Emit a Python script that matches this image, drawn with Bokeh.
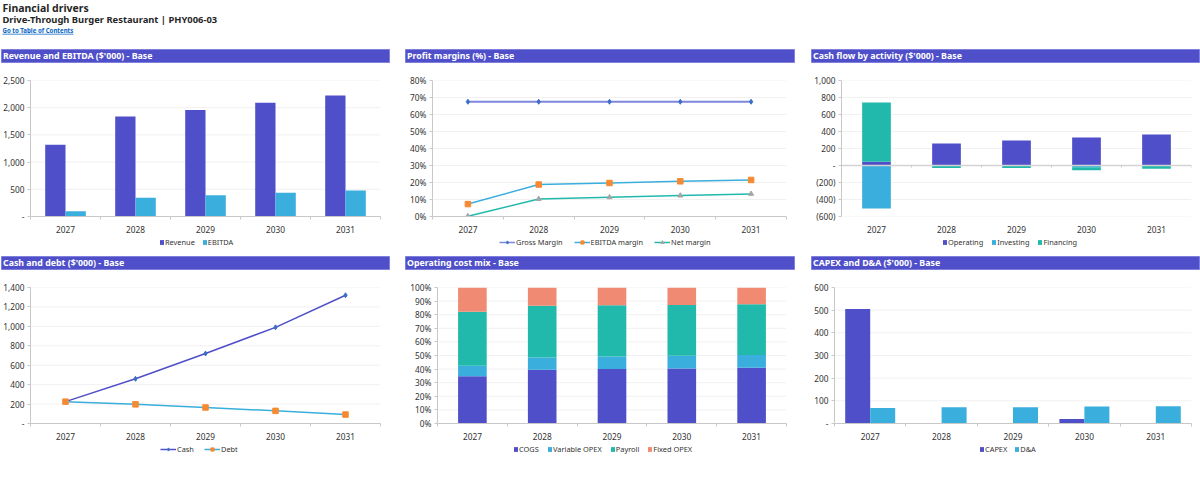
from bokeh.embed import file_html
from bokeh.resources import INLINE
from bokeh.plotting import figure
from bokeh.layouts import column, row
from bokeh.models import (BoxAnnotation, FixedTicker, Label, Legend, LegendItem,
                          LinearAxis, Range1d, Span)
import numpy as np

years = ["2027", "2028", "2029", "2030", "2031"]

revenue = [1320, 1840, 1960, 2090, 2225]
ebitda = [95, 345, 390, 435, 480]

gross_margin = [67.5, 67.5, 67.5, 67.5, 67.5]
ebitda_margin = [7.3, 18.8, 19.7, 20.7, 21.5]
net_margin = [0.2, 10.3, 11.3, 12.3, 13.3]

operating = [45, 260, 295, 330, 365]
investing = [-505, 0, 0, -20, 0]
financing = [695, -28, -30, -35, -38]

cash = [225, 460, 720, 990, 1320]
debt = [225, 197, 165, 130, 92]

cogs = [34.7, 39.5, 40.0, 40.5, 41.0]
variable_opex = [7.7, 9.0, 9.3, 9.3, 9.3]
payroll = [39.7, 38.0, 37.6, 37.3, 37.3]
fixed_opex = [17.9, 13.5, 13.1, 12.9, 12.4]

capex = [505, 0, 0, 20, 0]
dna = [68, 72, 72, 75, 76]

ticks_p1 = [0, 500, 1000, 1500, 2000, 2500]
labels_p1 = ["-", "500", "1,000", "1,500", "2,000", "2,500"]
ticks_p2 = [0, 10, 20, 30, 40, 50, 60, 70, 80]
labels_p2 = ["0%", "10%", "20%", "30%", "40%", "50%", "60%", "70%", "80%"]
ticks_p3 = [-600, -400, -200, 0, 200, 400, 600, 800, 1000]
labels_p3 = ["(600)", "(400)", "(200)", "-", "200", "400", "600", "800", "1,000"]
ticks_p4 = [0, 200, 400, 600, 800, 1000, 1200, 1400]
labels_p4 = ["-", "200", "400", "600", "800", "1,000", "1,200", "1,400"]
ticks_p5 = [0, 10, 20, 30, 40, 50, 60, 70, 80, 90, 100]
labels_p5 = ["0%", "10%", "20%", "30%", "40%", "50%", "60%", "70%", "80%", "90%", "100%"]
ticks_p6 = [0, 100, 200, 300, 400, 500, 600]
labels_p6 = ["-", "100", "200", "300", "400", "500", "600"]

PURPLE = "#4F4FC9"
BLUE = "#3AAEDC"
TEAL = "#21B9AC"
SALMON = "#F08A72"
ORANGE = "#F58A32"
MARK_BLUE = "#3A6FC8"
GRAY = "#A5A5A5"
TEXT = "#333333"
FONT = "Noto Sans"
FS = "8.3px"
LEGEND_FS = "7.4px"

xc = np.arange(len(years)) + 0.5


def band(title, left, right, top, bottom):
    b = figure(width=400, height=13 + top + bottom, output_backend="svg", toolbar_location=None,
               x_range=Range1d(0, 1), y_range=Range1d(0, 1), frame_align=False,
               min_border_left=left, min_border_right=right,
               min_border_top=top, min_border_bottom=bottom,
               background_fill_color=PURPLE, outline_line_color="#8080DC",
               x_axis_type=None, y_axis_type=None)
    b.add_layout(Label(x=0, y=0.5, x_offset=1.5, text=title, text_color="white",
                       text_font=FONT, text_font_style="bold", text_font_size="8.8px",
                       text_baseline="middle"))
    return b


def panel(ticks, labels, ymin, ymax, left, right, top, bottom, zero_axis=False):
    p = figure(width=400, height=136 + top + bottom, output_backend="svg", toolbar_location=None,
               x_range=Range1d(0, len(years)), y_range=Range1d(ymin, ymax), frame_align=False,
               min_border_left=left, min_border_right=right,
               min_border_top=top, min_border_bottom=bottom,
               outline_line_color=None, x_axis_type=None, y_axis_type=None)
    xticker = FixedTicker(ticks=list(xc), minor_ticks=list(range(len(years) + 1)))
    xa = LinearAxis(ticker=xticker,
                    major_label_overrides={float(c): y for c, y in zip(xc, years)},
                    major_tick_line_color=None, major_tick_in=0, major_tick_out=0,
                    major_label_standoff=6,
                    major_label_text_font=FONT, major_label_text_font_size=FS,
                    major_label_text_color=TEXT,
                    minor_tick_in=0, minor_tick_out=3, minor_tick_line_color="#C8C8C8",
                    axis_line_color="#C8C8C8")
    if zero_axis:
        xa.axis_line_color = None
        xa.minor_tick_line_color = None
    p.add_layout(xa, "below")
    if zero_axis:
        za = LinearAxis(ticker=FixedTicker(ticks=[], minor_ticks=list(range(len(years) + 1))),
                        fixed_location=0, axis_line_color="#D4D4D4", axis_line_width=1.5,
                        minor_tick_in=0, minor_tick_out=2, minor_tick_line_color="#C8C8C8",
                        major_tick_line_color=None, major_label_text_font_size="0px")
        p.add_layout(za, "below")
    ya = LinearAxis(ticker=FixedTicker(ticks=ticks),
                    major_label_overrides={t: l for t, l in zip(ticks, labels)},
                    major_tick_in=0, major_tick_out=3, major_tick_line_color="#C8C8C8",
                    minor_tick_line_color=None, axis_line_color="#C8C8C8",
                    major_label_standoff=3, major_label_text_font=FONT,
                    major_label_text_font_size=FS, major_label_text_color=TEXT)
    p.add_layout(ya, "left")
    for t in ticks:
        p.add_layout(Span(location=t, dimension="width", line_color="#F1F1F1", line_width=1, level="underlay"))
    return p


def strip(items, x, y, height, glyph_w, spacing):
    # The ranges lie far away from the data, so these renderers only supply the legend's keys.
    s = figure(width=400, height=height, output_backend="svg", toolbar_location=None,
               x_range=Range1d(1000000, 1000001), y_range=Range1d(1000000, 1000001), frame_align=False,
               min_border_left=0, min_border_right=0, min_border_top=0, min_border_bottom=0,
               outline_line_color=None, x_axis_type=None, y_axis_type=None)
    entries = []
    for it in items:
        if it[1] == "bar":
            r = s.vbar(x=xc[:1], top=it[3][:1], width=0.1, fill_color=it[2], line_color=None)
            entries.append(LegendItem(label=it[0], renderers=[r]))
        else:
            _, _, lc, mk, mc, lw, vals = it
            l = s.line(x=xc[:1], y=vals[:1], line_color=lc, line_width=lw)
            m = s.scatter(x=xc[:1], y=vals[:1], marker=mk, fill_color=mc, line_color=mc)
            entries.append(LegendItem(label=it[0], renderers=[l, m]))
    s.add_layout(Legend(items=entries, orientation="horizontal", location=(x, y),
                        border_line_color=None, background_fill_alpha=0, padding=0, margin=0,
                        spacing=spacing, glyph_width=glyph_w, glyph_height=6 if glyph_w < 10 else 8,
                        label_standoff=1, label_text_font=FONT, label_text_font_size=LEGEND_FS,
                        label_text_color=TEXT, label_height=8), "center")
    return s


def stacked(p, series, colors, width):
    pos = np.zeros(len(years))
    neg = np.zeros(len(years))
    for vals, col in zip(series, colors):
        v = np.asarray(vals, dtype=float)
        base = np.where(v >= 0, pos, neg)
        p.vbar(x=xc, bottom=base, top=base + v, width=width, fill_color=col, line_color=None)
        pos = pos + np.where(v >= 0, v, 0)
        neg = neg + np.where(v < 0, v, 0)


def lines(p, y, color, marker, mcolor, size, lw=1.5):
    p.line(xc, y, line_color=color, line_width=lw)
    p.scatter(xc, y, marker=marker, size=size, fill_color=mcolor, line_color=mcolor)


# Header
hdr = figure(width=1200, height=47, output_backend="svg", toolbar_location=None,
             x_range=Range1d(0, 1200), y_range=Range1d(47, 0), frame_align=False,
             min_border_left=0, min_border_right=0, min_border_top=0, min_border_bottom=0,
             outline_line_color=None, x_axis_type=None, y_axis_type=None)
hdr.add_layout(Label(x=2, y=7, text="Financial drivers", text_font=FONT, text_font_style="bold",
                     text_font_size="10.5px", text_color="#262626", text_baseline="middle"))
hdr.add_layout(Label(x=2, y=19, text="Drive-Through Burger Restaurant | PHY006-03",
                     text_font=FONT, text_font_style="bold", text_font_size="9.4px",
                     text_color="#262626", text_baseline="middle"))
hdr.add_layout(Label(x=2, y=30, text="Go to Table of Contents", text_font=FONT, text_font_style="bold",
                     text_font_size="6.1px", text_color="#0563C1", text_baseline="middle"))
hdr.add_layout(BoxAnnotation(left=2, right=73, top=33.2, bottom=33.9, fill_color="#0563C1",
                             fill_alpha=1, line_color=None))

# Panel 1
b1 = band("Revenue and EBITDA ($'000) - Base", 1, 11, 2, 2)
p1 = panel(ticks_p1, labels_p1, 0, 2500, 30, 20, 16, 20)
w1 = 0.29
p1.vbar(x=xc - w1 / 2, top=revenue, width=w1, fill_color=PURPLE, line_color=None)
p1.vbar(x=xc + w1 / 2, top=ebitda, width=w1, fill_color=BLUE, line_color=None)
l1 = strip([("Revenue", "bar", PURPLE, revenue), ("EBITDA", "bar", BLUE, ebitda)], 159, 5.5, 16, 5, 7)

# Panel 2
b2 = band("Profit margins (%) - Base", 5, 6, 2, 2)
p2 = panel(ticks_p2, labels_p2, 0, 80, 32, 14, 16, 20)
lines(p2, gross_margin, "#7F86E0", "diamond", MARK_BLUE, 5, 2)
lines(p2, ebitda_margin, BLUE, "square", ORANGE, 5.5)
lines(p2, net_margin, TEAL, "triangle", GRAY, 5)
l2 = strip([("Gross Margin", "line", "#7F86E0", "diamond", MARK_BLUE, 1.5, gross_margin),
            ("EBITDA margin", "line", BLUE, "square", ORANGE, 1.5, ebitda_margin),
            ("Net margin", "line", TEAL, "triangle", GRAY, 1.5, net_margin)], 99, 5.5, 16, 16, 11)

# Panel 3
b3 = band("Cash flow by activity ($'000) - Base", 11, 1, 2, 2)
p3 = panel(ticks_p3, labels_p3, -600, 1000, 41, 9, 16, 20, zero_axis=True)
stacked(p3, [operating, investing, financing], [PURPLE, BLUE, TEAL], 0.41)
l3 = strip([("Operating", "bar", PURPLE, operating), ("Investing", "bar", BLUE, investing),
            ("Financing", "bar", TEAL, financing)], 142, 5.5, 16, 5, 8)

# Panel 4
b4 = band("Cash and debt ($'000) - Base", 1, 11, 4, 2)
p4 = panel(ticks_p4, labels_p4, 0, 1400, 30, 20, 16, 20)
lines(p4, cash, PURPLE, "diamond", MARK_BLUE, 5)
lines(p4, debt, BLUE, "square", ORANGE, 5.5)
l4 = strip([("Cash", "line", PURPLE, "diamond", MARK_BLUE, 1.5, cash),
            ("Debt", "line", BLUE, "square", ORANGE, 1.5, debt)], 160, 6, 17, 16, 7)

# Panel 5
b5 = band("Operating cost mix - Base", 5, 6, 4, 2)
p5 = panel(ticks_p5, labels_p5, 0, 100, 37, 14, 16, 20)
stacked(p5, [cogs, variable_opex, payroll, fixed_opex], [PURPLE, BLUE, TEAL, SALMON], 0.41)
l5 = strip([("COGS", "bar", PURPLE, cogs), ("Variable OPEX", "bar", BLUE, variable_opex),
            ("Payroll", "bar", TEAL, payroll), ("Fixed OPEX", "bar", SALMON, fixed_opex)], 113, 6, 17, 5, 8)

# Panel 6
b6 = band("CAPEX and D&A ($'000) - Base", 11, 1, 4, 2)
p6 = panel(ticks_p6, labels_p6, 0, 600, 34, 9, 16, 20)
w6 = 0.35
p6.vbar(x=xc - w6 / 2, top=capex, width=w6, fill_color=PURPLE, line_color=None)
p6.vbar(x=xc + w6 / 2, top=dna, width=w6, fill_color=BLUE, line_color=None)
l6 = strip([("CAPEX", "bar", PURPLE, capex), ("D&A", "bar", BLUE, dna)], 179, 6, 17, 5, 7)

page = column(
    hdr,
    row(column(b1, p1, l1, spacing=0), column(b2, p2, l2, spacing=0), column(b3, p3, l3, spacing=0), spacing=0),
    row(column(b4, p4, l4, spacing=0), column(b5, p5, l5, spacing=0), column(b6, p6, l6, spacing=0), spacing=0),
    spacing=0,
)

open("out.html", "w").write(file_html(page, INLINE))
